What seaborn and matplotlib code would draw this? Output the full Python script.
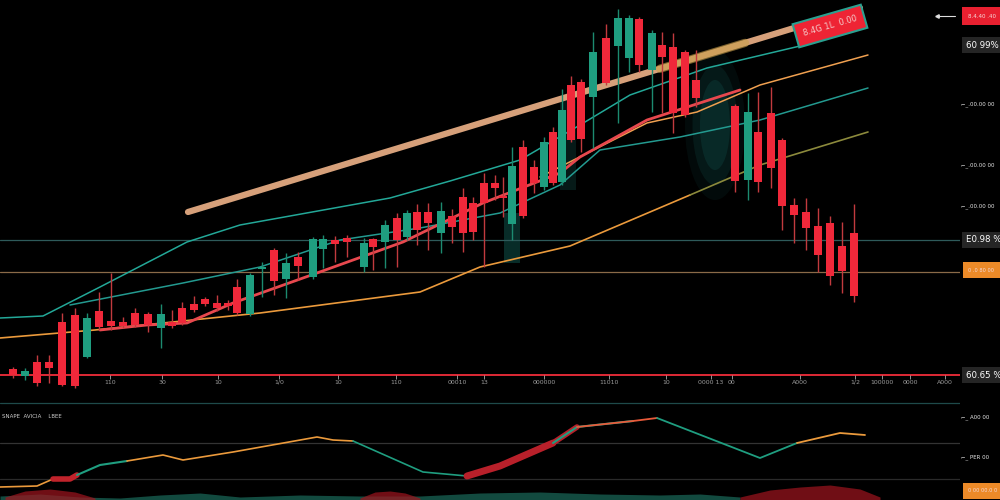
import numpy as np
import matplotlib
matplotlib.use("Agg")
import matplotlib.pyplot as plt
from matplotlib.patches import Ellipse
import seaborn as sns

# ---- candles: time position, open, close, high, low ----
cx = [13, 25, 37, 49, 62, 75, 87, 99, 111, 123, 135, 148, 161, 172, 182, 194, 205, 217, 228, 237,
      250, 262, 274, 286, 298, 313, 323, 335, 347, 364, 373, 385, 397, 407, 417, 428, 441, 452, 463, 473,
      484, 495, 503, 512, 523, 534, 544, 553, 562, 571, 581, 593, 606, 618, 629, 639, 652, 662, 673, 685,
      696, 735, 748, 758, 771, 782, 794, 806, 818, 830, 842, 854]
c_open = [31, 24, 38, 38, 78, 85, 43, 89, 79, 78, 87, 86, 72, 78, 92, 96, 101, 97, 97, 113,
          86, 131, 150, 121, 143, 123, 151, 160, 162, 133, 161, 158, 182, 163, 188, 188, 167, 184, 203, 197,
          217, 217, 204, 176, 253, 233, 213, 268, 218, 315, 318, 303, 362, 354, 342, 381, 330, 355, 353, 348,
          320, 294, 220, 268, 287, 260, 195, 188, 174, 177, 154, 167]
c_close = [25, 29, 17, 32, 15, 14, 82, 73, 74, 74, 75, 75, 86, 74, 77, 90, 96, 92, 94, 87,
           125, 133, 119, 137, 134, 161, 161, 156, 158, 157, 153, 175, 160, 187, 170, 177, 189, 173, 167, 168,
           197, 212, 202, 234, 184, 217, 258, 217, 290, 260, 261, 348, 317, 382, 382, 335, 367, 343, 287, 285,
           302, 219, 288, 218, 232, 194, 185, 172, 145, 124, 129, 104]
c_high = [33, 32, 45, 45, 87, 92, 87, 108, 127, 83, 92, 88, 96, 90, 98, 104, 103, 105, 100, 121,
          127, 138, 152, 147, 148, 163, 165, 164, 165, 162, 162, 180, 187, 190, 196, 197, 198, 191, 212, 203,
          227, 225, 223, 253, 260, 240, 263, 273, 311, 324, 321, 368, 376, 391, 385, 383, 370, 368, 367, 350,
          350, 296, 307, 308, 313, 262, 202, 202, 192, 184, 178, 196]
c_low = [22, 20, 14, 17, 14, 12, 42, 70, 70, 72, 73, 68, 52, 72, 75, 88, 94, 89, 90, 85,
         84, 103, 105, 102, 120, 121, 132, 138, 143, 128, 130, 132, 133, 160, 155, 150, 147, 157, 148, 160,
         133, 200, 183, 160, 182, 207, 210, 215, 215, 258, 248, 252, 315, 277, 328, 328, 288, 287, 267, 283,
         293, 208, 200, 208, 212, 170, 157, 150, 128, 115, 107, 98]

# ---- overlay lines ----
trend_x = [188, 860]
trend_y = [188, 392]
teal_hi_x = [0, 43, 100, 187, 240, 390, 450, 520, 580, 630, 707, 800]
teal_hi_y = [82, 84, 113, 158, 175, 202, 219, 240, 275, 305, 332, 354]
teal_lo_x = [70, 183, 260, 340, 420, 500, 560, 600, 680, 760, 868]
teal_lo_y = [95, 117, 133, 160, 172, 187, 215, 250, 263, 280, 312]
orange_x = [0, 95, 260, 420, 480, 570, 690]
orange_y = [62, 70, 87, 108, 133, 154, 205]
olive_x = [690, 760, 868]
olive_y = [205, 235, 268]
ma_red_x = [100, 147, 187, 233, 317, 403, 483, 560, 580, 647, 740]
ma_red_y = [70, 75, 77, 97, 127, 158, 197, 227, 243, 280, 310]
pale_x = [540, 647, 697, 760, 868]
pale_y = [223, 277, 288, 315, 345]
levels = [160, 128, 25]

# ---- x tick labels (garbled in the source) ----
tick_x = [110, 162, 218, 279, 338, 396, 457, 484, 544, 609, 666, 711, 732, 800, 855, 882, 910, 945]
tick_lab = ["110", "30", "10", "1/0", "10", "110", "00010", "13", "000000", "11010", "10",
            "0000 13", "00", "A000", "1/2", "100000", "0000", "A000"]

# ---- right side price tags ----
tag_y = [384, 355, 296, 235, 194, 160, 130, 25]
tag_txt = ["8.4.40 .40", "60 99%", "⌐_.00.00 00", "⌐_.00.00 00", "⌐_.00.00 00",
           "E0.98 %", "0 .0 80 00", "60.65 %"]
tag_kind = ["red", "grey", "plain", "plain", "plain", "grey", "orange", "grey"]

# ---- lower oscillator panel ----
osc_x = [0, 37, 53, 70, 77, 100, 127, 163, 183, 233, 317, 333, 353, 423, 467, 500,
         553, 577, 633, 657, 760, 797, 840, 865]
osc_y = [13, 14, 21, 21, 25, 35, 39, 45, 40, 48, 63, 60, 59, 28, 24, 34,
         57, 73, 79, 82, 42, 57, 67, 65]
osc_levels = [97, 57, 21]
vol_x = [0, 40, 80, 120, 160, 200, 240, 300, 360, 420, 480, 540, 600, 660, 700, 740]
vol_teal = [4, 6, 3, 2, 5, 7, 3, 5, 4, 4, 7, 8, 6, 5, 6, 3]
blob_x = [[5, 25, 50, 75, 95], [360, 375, 390, 405, 420], [740, 770, 800, 830, 860, 880]]
blob_h = [[3, 9, 11, 8, 2], [2, 8, 9, 7, 2], [3, 10, 13, 15, 11, 3]]
osc_tag_y = [83, 43, 9]
osc_tag_txt = ["⌐_ A00 00", "⌐_ PER 00", "0 00 00.0 0"]
osc_tag_kind = ["plain", "plain", "orange"]

RED = "#f0283a"
TEAL = "#1f9e80"
ORANGE = "#eb9a3c"
BG = "#000000"

sns.set_theme(style="dark", rc={"axes.facecolor": BG, "figure.facecolor": BG})
plt.rcParams["font.family"] = ["DejaVu Sans"]

fig = plt.figure(figsize=(10, 5), dpi=100)
ax = fig.add_axes([0, 0.216, 0.96, 0.784])
ax2 = fig.add_axes([0, 0, 0.96, 0.21])
for a in (ax, ax2):
    a.set_facecolor(BG)
    a.set_axis_off()

ax.set_xlim(0, 960)
ax.set_ylim(8, 400)
ax2.set_xlim(0, 960)
ax2.set_ylim(0, 105)

# soft glows behind some candles
for w, h, al in [(60, 150, 0.08), (45, 120, 0.12), (30, 90, 0.15)]:
    ax.add_patch(Ellipse((715, 275), w, h, color="#1d8a80", alpha=al, lw=0))
ax.bar([512], [50], bottom=[137], width=16, color="#0f4a44", alpha=0.6, lw=0, edgecolor="none")
ax.bar([568], [90], bottom=[210], width=16, color="#124d46", alpha=0.35, lw=0, edgecolor="none")

# horizontal levels
level_cols = ["#2e5a5a", "#8a6a48", "#e02a36"]
level_lw = [0.9, 0.9, 1.4]
for lv, col, lw in zip(levels, level_cols, level_lw):
    ax.axhline(lv, color=col, lw=lw, zorder=1)

# moving averages / channel lines
sns.lineplot(x=orange_x, y=orange_y, ax=ax, color=ORANGE, lw=1.2, sort=False, estimator=None)
sns.lineplot(x=olive_x, y=olive_y, ax=ax, color="#8c8a3c", lw=1.2, sort=False, estimator=None)
sns.lineplot(x=teal_hi_x, y=teal_hi_y, ax=ax, color="#23a898", lw=1.1, sort=False, estimator=None)
sns.lineplot(x=teal_lo_x, y=teal_lo_y, ax=ax, color="#239a90", lw=1.1, sort=False, estimator=None)
sns.lineplot(x=pale_x, y=pale_y, ax=ax, color="#f0a050", lw=1.1, sort=False, estimator=None)
sns.lineplot(x=ma_red_x, y=ma_red_y, ax=ax, color="#e8484e", lw=2.0, sort=False, estimator=None)
sns.lineplot(x=trend_x, y=trend_y, ax=ax, color="#d6a07a", lw=4.5, sort=False, estimator=None)
hx = np.linspace(660, 745, 10)
ax.plot(hx, np.interp(hx, trend_x, trend_y), color="#c9a04a", lw=6, alpha=0.6, solid_capstyle="round")

# candles
cx_a = np.array(cx)
o = np.array(c_open)
c = np.array(c_close)
up = c >= o
cols = np.where(up, TEAL, RED)
wick_cols = np.where(up, "#1c8a70", "#c23a3e")
ax.vlines(cx_a, c_low, c_high, colors=wick_cols, lw=1, zorder=3)
ax.bar(cx_a, np.maximum(np.abs(c - o), 1.5), bottom=np.minimum(o, c), width=7.5,
       color=cols, zorder=4, lw=0, edgecolor="none")

# x ticks drawn on the red baseline
ax.vlines(tick_x, 21, 25, colors="#aaaaaa", lw=0.6)
for tx, tl in zip(tick_x, tick_lab):
    ax.text(tx, 18, tl, color="#9a9a9a", fontsize=4.5, ha="center", va="center")

# red rotated callout on the trendline
ax.text(830, 374, "8.4G 1L  0.00", rotation=16, color="#f3c6c6", fontsize=6,
        ha="center", va="center", zorder=6,
        bbox=dict(boxstyle="square,pad=0.9", fc="#ee2434", ec="#2aa090", lw=1.5))

# right price tags
ax.plot([937, 955], [384, 384], color="#dddddd", lw=0.8, clip_on=False)
ax.plot([937], [384], marker="<", color="#dddddd", ms=2.5, clip_on=False)
tag_style = {
    "red": dict(fc="#e82030", ec="none"),
    "grey": dict(fc="#252525", ec="none"),
    "orange": dict(fc="#ec8a28", ec="none"),
    "plain": None,
}
tag_size = {"red": 4.0, "grey": 6.2, "orange": 3.6}
tag_pad = {"red": 1.1, "grey": 0.45, "orange": 1.1}
tag_x0 = {"red": 968, "grey": 966, "orange": 968}


def draw_tag(a, ty, tt, tk):
    st = tag_style[tk]
    if st is None:
        a.text(961, ty, tt, color="#e8e8e8", fontsize=3.9, ha="left", va="center", clip_on=False)
    else:
        a.text(tag_x0[tk], ty, tt, color="#ffffff" if tk == "grey" else "#f5dada",
               fontsize=tag_size[tk], ha="left", va="center", clip_on=False,
               bbox=dict(boxstyle="square,pad=%.2f" % tag_pad[tk], **st))


for ty, tt, tk in zip(tag_y, tag_txt, tag_kind):
    draw_tag(ax, ty, tt, tk)

# ---- lower panel ----
osc_level_cols = ["#1e4a4a", "#333333", "#2a2a2a"]
for lv, col in zip(osc_levels, osc_level_cols):
    ax2.axhline(lv, color=col, lw=0.9, zorder=1)

ax2.fill_between(vol_x, 0, vol_teal, color="#1a6a5a", alpha=0.7, lw=0)
for bx, bh in zip(blob_x, blob_h):
    ax2.fill_between(bx, 0, bh, color="#a0141e", alpha=0.7, lw=0)

segs = [(0, 2, ORANGE, 1.2), (2, 4, "#c0232b", 4.0), (4, 6, TEAL, 1.5), (6, 12, ORANGE, 1.2),
        (12, 14, TEAL, 1.2), (14, 16, "#b8202a", 5.0), (15, 17, "#b8202a", 4.0), (16, 18, TEAL, 1.5),
        (17, 19, "#e85a3a", 1.3), (19, 21, TEAL, 1.3), (21, 23, ORANGE, 1.3)]
for i0, i1, col, lw in segs:
    sns.lineplot(x=osc_x[i0:i1 + 1], y=osc_y[i0:i1 + 1], ax=ax2, color=col, lw=lw,
                 sort=False, estimator=None)

ax2.text(2, 84, "SNAPE  AVICIA    LBEE", color="#cccccc", fontsize=4, ha="left", va="center")
for ty, tt, tk in zip(osc_tag_y, osc_tag_txt, osc_tag_kind):
    draw_tag(ax2, ty, tt, tk)

fig.savefig("out.png", dpi=100, facecolor=BG)
